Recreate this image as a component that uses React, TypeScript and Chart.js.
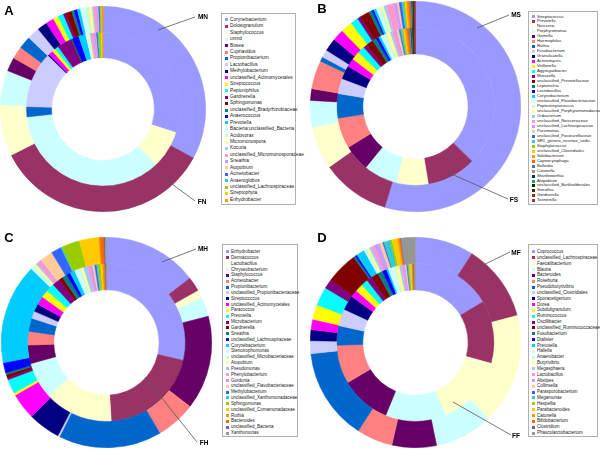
import React, { useEffect, useRef } from "react";
import { Chart, registerables } from "chart.js";
Chart.register(...registerables);

const palette = [
  "#9999FF", "#993366", "#FFFFCC", "#CCFFFF", "#660066", "#FF8080", "#0066CC", "#CCCCFF",
  "#000080", "#FF00FF", "#FFFF00", "#00FFFF", "#800080", "#800000", "#008080", "#0000FF",
  "#00CCFF", "#CCFFFF", "#CCFFCC", "#FFFF99", "#99CCFF", "#FF99CC", "#CC99FF", "#FFCC99",
  "#3366FF", "#33CCCC", "#99CC00", "#FFCC00", "#FF9900", "#FF6600", "#666699", "#969696",
  "#003366", "#339966", "#003300", "#333300", "#993300", "#993366",
];

// Panel A: nasal (MN outer, FN inner)
const labelsA = [
  "Corynebacterium", "Dolosigranulum", "Staphylococcus", "unmd", "Bosea", "Cupriavidus",
  "Propionibacterium", "Lactobacillus", "Methylobacterium", "unclassified_Actinomycetales",
  "Streptococcus", "Peptoniphilus", "Gardnerella", "Sphingomonas", "unclassified_Bradyrhizobiaceae",
  "Anaerococcus", "Prevotella", "Bacteria;unclassified_Bacteria", "Acidovorax", "Micromonospora",
  "Kocuria", "unclassified_Micromonosporaceae", "Sneathia", "Atopobium", "Acinetobacter",
  "Anaeroglobus", "unclassified_Lachnospiraceae", "Streptophyta", "Enhydrobacter",
];
const mnValues = [33.4, 35.2, 8.2, 5.5, 2.2, 2.0, 2.0, 2.0, 1.6, 1.3, 0.8, 0.9, 0.4, 1.0, 0.4, 0.5, 0.5, 0.8, 0.6, 0.5, 0.2, 0.4, 0.3, 0.1, 0.2, 0.1, 0.1, 0.1, 0.2];
const fnValues = [30.5, 0, 8.1, 36, 0, 0, 2.2, 12, 0.3, 1.0, 0.7, 0.8, 3.0, 0.2, 0.2, 1.5, 1.5, 0.4, 0.2, 0.3, 0.2, 0.6, 0.5, 0.1, 0.3, 0.2, 0.5, 0.3, 0.1];

// Panel B: saliva (MS outer, FS inner)
const labelsB = [
  "Streptococcus", "Prevotella", "Neisseria", "Porphyromonas", "Gemella", "Haemophilus", "Rothia",
  "Fusobacterium", "Granulicatella", "Actinomyces", "Veillonella", "Aggregatibacter", "Moraxella",
  "unclassified_Prevotellaceae", "Leptotrichia", "Lactobacillus", "Corynebacterium",
  "unclassified_Flavobacteriaceae", "Peptostreptococcus", "unclassified_Porphyromonadaceae",
  "Oribacterium", "unclassified_Neisseriaceae", "unclassified_Lachnospiraceae", "Parvimonas",
  "unclassified_Pasteurellaceae", "SR1_genera_incertae_sedis", "Staphylococcus",
  "unclassified_Clostridiales", "Solobacterium", "Capnocytophaga", "Bulleidia", "Catonella",
  "Shuttleworthia", "Atopobium", "unclassified_Burkholderiales", "Sneathia", "Gardnerella", "Tannerella",
];
const msValues = [55, 10.6, 6.6, 4.1, 1.8, 4.4, 0.7, 1.2, 2.0, 1.8, 1.8, 1.2, 0.5, 1.5, 0.5, 0.3, 0.4, 0.5, 0.4, 0.3, 0.4, 1.2, 0.5, 0.3, 0.4, 0.3, 0.2, 0.2, 0.3, 0.3, 0.1, 0.1, 0.1, 0.1, 0.1, 0.1, 0.1, 0.1];
const fsValues = [37.8, 10.3, 6.7, 7.0, 5.5, 6.4, 5.1, 3.2, 2.8, 1.8, 1.8, 1.5, 0.8, 1.5, 0.8, 0.6, 0.5, 0.8, 0.5, 0.8, 0.4, 0.6, 0.4, 0.5, 0.3, 0.3, 0.3, 0.3, 0.4, 0.4, 0.2, 0.2, 0.2, 0.2, 0.1, 0.2, 0.2, 0.1];

// Panel C: hand (MH outer, FH inner)
const labelsC = [
  "Enhydrobacter", "Dermacoccus", "Lactobacillus", "Chryseobacterium", "Staphylococcus",
  "Acinetobacter", "Propionibacterium", "unclassified_Propionibacteriaceae", "Streptococcus",
  "unclassified_Actinomycetales", "Paracoccus", "Prevotella", "Microbacterium", "Gardnerella",
  "Sneathia", "unclassified_Lachnospiraceae", "Corynebacterium", "Stenotrophomonas",
  "unclassified_Microbacteriaceae", "Atopobium", "Pseudomonas", "Phenylobacterium", "Gordonia",
  "unclassified_Flavobacteriaceae", "Methylobacterium", "unclassified_Xanthomonadaceae",
  "Sphingomonas", "unclassified_Comamonadaceae", "Rothia", "Bacteroides", "unclassified_Bacteria",
  "Xanthomonas",
];
const mhValues = [14.7, 2.3, 1.2, 3.0, 14.6, 6.2, 16.0, 0.3, 5.0, 4.1, 0.4, 2.2, 0.3, 0.5, 0.3, 1.6, 15.6, 0.4, 0.3, 0.3, 0.2, 0.6, 0.2, 2.0, 1.6, 0.2, 2.8, 3.0, 0.2, 0.6, 0.2, 0.2];
const fhValues = [28.5, 20.3, 14.0, 7.5, 3.8, 2.8, 2.7, 1.5, 1.6, 1.7, 1.6, 1.7, 1.6, 0.8, 1.0, 0.8, 1.0, 1.0, 0.4, 0.5, 0.8, 0.5, 0.6, 0.4, 0.4, 0.3, 0.5, 0.4, 0.3, 0.3, 0.1, 0.1];

// Panel D: faecal (MF outer, FF inner)
const labelsD = [
  "Coprococcus", "unclassified_Lachnospiraceae", "Faecalibacterium", "Blautia", "Bacteroides",
  "Roseburia", "Pseudobutyrivibrio", "unclassified_Clostridiales", "Sporacetigenium", "Dorea",
  "Subdoligranulum", "Ruminococcus", "Oscillibacter", "unclassified_Ruminococcaceae",
  "Fusobacterium", "Dialister", "Prevotella", "Hallella", "Anaerobacter", "Butyrivibrio",
  "Megasphaera", "Lactobacillus", "Alistipes", "Collinsella", "Parasporobacterium", "Megamonas",
  "Hespellia", "Parabacteroides", "Catonella", "Bifidobacterium", "Clostridium",
  "Phascolarctobacterium",
];
const mfValues = [9.1, 12.0, 17.2, 9.0, 6.9, 5.6, 14.3, 2.0, 1.7, 1.6, 2.3, 2.9, 1.5, 4.9, 0.3, 0.3, 1.3, 0.3, 0.2, 0.4, 0.3, 0.5, 0.9, 0.5, 0.2, 1.0, 0.3, 0.8, 0.3, 0.2, 0.1, 2.2];
const ffValues = [16.3, 12.9, 14.4, 12.4, 10.3, 7.9, 4.0, 3.5, 3.0, 1.5, 1.6, 1.4, 1.0, 1.6, 1.0, 0.9, 0.4, 1.2, 0.3, 0.8, 0.4, 0.4, 0.4, 0.3, 0.2, 0.2, 0.2, 0.4, 0.2, 0.2, 0.1, 0.3];

const FONT = '"Liberation Sans", Arial, sans-serif';

function Donut(props: { labels: string[]; outer: number[]; inner: number[]; left: number; top: number; size: number }) {
  const ref = useRef<HTMLCanvasElement>(null);
  useEffect(() => {
    const colors = palette.slice(0, props.labels.length);
    const chart = new Chart(ref.current!, {
      type: "doughnut",
      data: {
        labels: props.labels,
        datasets: [
          { data: props.outer, backgroundColor: colors, borderColor: colors, borderWidth: 0.5 },
          { data: props.inner, backgroundColor: colors, borderColor: colors, borderWidth: 0.5 },
        ],
      },
      options: {
        responsive: false,
        animation: false,
        cutout: "50%",
        events: [],
        layout: { padding: 0 },
        plugins: { legend: { display: false }, tooltip: { enabled: false } },
      },
    });
    return () => chart.destroy();
  }, []);
  return (
    <canvas
      ref={ref}
      width={props.size}
      height={props.size}
      style={{ position: "absolute", left: props.left, top: props.top, width: props.size, height: props.size }}
    />
  );
}

function Legend(props: { labels: string[]; left: number; top: number; width: number; height: number; first: number; step: number; fontSize: number }) {
  return (
    <div
      style={{
        position: "absolute",
        left: props.left,
        top: props.top,
        width: props.width,
        height: props.height,
        border: "1px solid #b0b0b0",
        background: "#fff",
        boxSizing: "border-box",
      }}
    >
      {props.labels.map((l, i) => (
        <div
          key={i}
          style={{
            position: "absolute",
            left: 3,
            top: props.first + i * props.step - props.step / 2,
            height: props.step,
            lineHeight: props.step + "px",
            fontFamily: FONT,
            fontSize: props.fontSize,
            color: "#222",
            whiteSpace: "nowrap",
            display: "flex",
            alignItems: "center",
          }}
        >
          <span style={{ display: "inline-block", width: 3, height: 3, background: palette[i], marginRight: 2 }} />
          {l}
        </div>
      ))}
    </div>
  );
}

function Txt(props: { x: number; y: number; text: string; size: number }) {
  return (
    <div
      style={{
        position: "absolute",
        left: props.x,
        top: props.y,
        transform: "translate(-50%, -50%)",
        fontFamily: FONT,
        fontWeight: "bold",
        fontSize: props.size,
        lineHeight: 1,
        color: "#000",
        whiteSpace: "nowrap",
      }}
    >
      {props.text}
    </div>
  );
}

const leaders = [
  [158, 30, 195, 17], [153, 170, 195, 201],
  [477, 28, 509, 15], [447, 172, 508, 199],
  [162, 262, 196, 249], [145, 377, 197, 442],
  [477, 268, 510, 252], [453, 402, 511, 435],
];

export default function App() {
  return (
    <div style={{ position: "fixed", left: 0, top: 0, width: 600, height: 450, background: "#fff", overflow: "hidden" }}>
      <Donut labels={labelsA} outer={mnValues} inner={fnValues} left={0} top={6} size={206} />
      <Donut labels={labelsB} outer={msValues} inner={fsValues} left={310} top={1} size={211} />
      <Donut labels={labelsC} outer={mhValues} inner={fhValues} left={1} top={237} size={211} />
      <Donut labels={labelsD} outer={mfValues} inner={ffValues} left={310} top={237} size={211} />

      <Legend labels={labelsA} left={221} top={13} width={75} height={192} first={6} step={6.43} fontSize={4.8} />
      <Legend labels={labelsB} left={528} top={11} width={70} height={194} first={5} step={4.97} fontSize={4.2} />
      <Legend labels={labelsC} left={222} top={244} width={76} height={193} first={7} step={5.84} fontSize={4.5} />
      <Legend labels={labelsD} left={528} top={244} width={70} height={193} first={7} step={5.84} fontSize={4.5} />

      <svg width={600} height={450} style={{ position: "absolute", left: 0, top: 0 }}>
        {leaders.map((l, i) => (
          <line key={i} x1={l[0]} y1={l[1]} x2={l[2]} y2={l[3]} stroke="#555" strokeWidth={0.8} />
        ))}
      </svg>

      <Txt x={203} y={17} text="MN" size={6.5} />
      <Txt x={202} y={202} text="FN" size={6.5} />
      <Txt x={516} y={15} text="MS" size={6.5} />
      <Txt x={514} y={200} text="FS" size={6.5} />
      <Txt x={203} y={249} text="MH" size={6.5} />
      <Txt x={204} y={443} text="FH" size={6.5} />
      <Txt x={516} y={253} text="MF" size={6.5} />
      <Txt x={516} y={436} text="FF" size={6.5} />

      <Txt x={9} y={10} text="A" size={13} />
      <Txt x={322} y={8} text="B" size={13} />
      <Txt x={9} y={237} text="C" size={13} />
      <Txt x={322} y={237} text="D" size={13} />
    </div>
  );
}
